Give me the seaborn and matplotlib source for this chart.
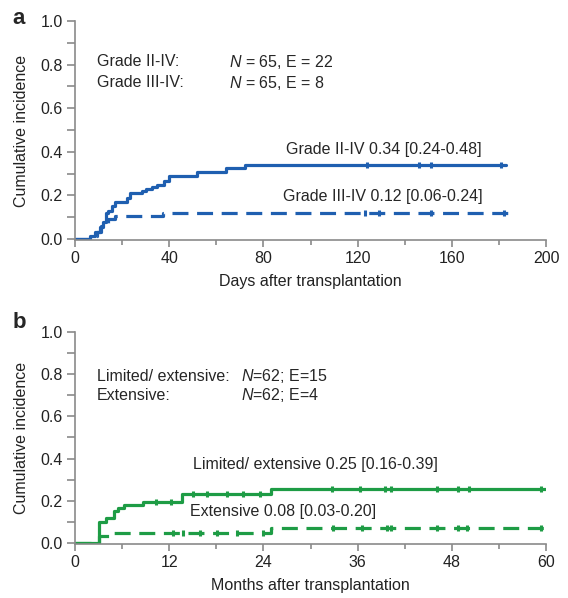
import seaborn as sns
import matplotlib.pyplot as plt
import matplotlib.ticker as mticker
import numpy as np
import pandas as pd

# panel a: acute GVHD, days after transplantation
a_days_24 = [0, 6.5, 8.5, 10.5, 12, 13, 14, 15.5, 17, 22, 23.5, 28.5, 30, 32.5, 35, 38, 40, 52, 64, 72, 183]
a_inc_24 = [0, 0.015, 0.033, 0.053, 0.077, 0.12, 0.13, 0.15, 0.17, 0.19, 0.21, 0.22, 0.228, 0.236, 0.246, 0.265, 0.29, 0.307, 0.325, 0.34, 0.34]
a_cens_24 = [124, 146, 151, 181]

a_days_34 = [0, 8, 9.5, 11, 14, 17, 37.5, 184]
a_inc_34 = [0, 0.015, 0.03, 0.06, 0.09, 0.105, 0.12, 0.12]
a_cens_34 = [123, 129, 151, 182]

# panel b: chronic GVHD, months after transplantation
b_months_le = [0, 3, 4, 5, 5.5, 6.2, 8.6, 13.6, 25, 60]
b_inc_le = [0, 0.10, 0.12, 0.15, 0.165, 0.18, 0.195, 0.23, 0.255, 0.255]
b_cens_le = [10.3, 12.2, 15.0, 16.8, 19.4, 21.4, 23.6, 32.7, 36.3, 39.5, 40.3, 46.1, 48.8, 50.2, 59.4]

b_months_ext = [0, 3, 4.4, 25, 60]
b_inc_ext = [0, 0.033, 0.047, 0.073, 0.073]
b_cens_ext = [12.5, 13.8, 15.9, 18.1, 20.6, 24, 32.9, 36.5, 39.7, 40.3, 46.1, 48.8, 49.9, 59.4]

blue = "#1f5fb0"
green = "#1e9c45"
dash = (0, (5, 2.7))

sns.set_style("ticks")
plt.rcParams['font.family'] = ['Liberation Sans', 'DejaVu Sans']
plt.rcParams['mathtext.fontset'] = 'custom'
plt.rcParams['mathtext.it'] = 'Liberation Sans:italic'
plt.rcParams['mathtext.rm'] = 'Liberation Sans'
plt.rcParams['font.size'] = 11.5

fig = plt.figure(figsize=(5.68, 5.98), dpi=100)
ax_a = fig.add_axes([75/568, 1 - 240/598, 471/568, 219/598])
ax_b = fig.add_axes([75/568, 1 - 544/598, 471/568, 212/598])


def step_value(t, y, at):
    idx = np.searchsorted(t, at, side='right') - 1
    return np.asarray(y)[idx]


def curve(ax, t, y, cens, color, ls):
    df = pd.DataFrame({"t": t, "y": y})
    sns.lineplot(data=df, x="t", y="y", ax=ax, color=color, linewidth=2.3,
                 linestyle=ls, drawstyle="steps-post", estimator=None)
    # censoring ticks, small bumps on the line
    cdf = pd.DataFrame({"t": cens, "y": step_value(t, y, cens)})
    sns.scatterplot(data=cdf, x="t", y="y", ax=ax, color=color, marker="|",
                    s=14, linewidth=2.2, zorder=3)


def style_axes(ax, xmax, xmajor, xminor, xlabel):
    ax.set_xlim(0, xmax)
    ax.set_ylim(-0.005, 1.0)
    ax.xaxis.set_major_locator(mticker.MultipleLocator(xmajor))
    ax.xaxis.set_minor_locator(mticker.MultipleLocator(xminor))
    ax.yaxis.set_major_locator(mticker.MultipleLocator(0.2))
    ax.yaxis.set_minor_locator(mticker.MultipleLocator(0.1))
    ax.yaxis.set_major_formatter(mticker.FormatStrFormatter('%.1f'))
    sns.despine(ax=ax)
    for s in ("left", "bottom"):
        ax.spines[s].set_color("#8a8a8a")
        ax.spines[s].set_linewidth(1.2)
    ax.tick_params(which="major", direction="out", length=5, width=1.2,
                   color="#8a8a8a", labelsize=11.5, labelcolor="#222222", pad=3)
    ax.tick_params(which="minor", direction="out", length=3.5, width=1.2, color="#8a8a8a")
    ax.tick_params(axis="y", which="both", length=6)
    ax.set_xlabel(xlabel, fontsize=11.5, color="#222222", labelpad=6)
    ax.set_ylabel("Cumulative incidence", fontsize=11.5, color="#222222", labelpad=8)


# panel a
curve(ax_a, a_days_24, a_inc_24, a_cens_24, blue, "-")
curve(ax_a, a_days_34, a_inc_34, a_cens_34, blue, dash)
style_axes(ax_a, 200, 40, 20, "Days after transplantation")
ax_a.text(9.3, 0.812, "Grade II-IV:", va="center", ha="left", fontsize=11.5)
ax_a.text(9.3, 0.717, "Grade III-IV:", va="center", ha="left", fontsize=11.5)
ax_a.text(65.5, 0.812, "$N$ = 65, E = 22", va="center", ha="left", fontsize=11.5)
ax_a.text(65.5, 0.717, "$N$ = 65, E = 8", va="center", ha="left", fontsize=11.5)
ax_a.text(89.5, 0.41, "Grade II-IV 0.34 [0.24-0.48]", va="center", ha="left", fontsize=11.5)
ax_a.text(88.3, 0.196, "Grade III-IV 0.12 [0.06-0.24]", va="center", ha="left", fontsize=11.5)

# panel b
curve(ax_b, b_months_le, b_inc_le, b_cens_le, green, "-")
curve(ax_b, b_months_ext, b_inc_ext, b_cens_ext, green, dash)
style_axes(ax_b, 60, 12, 6, "Months after transplantation")
ax_b.text(2.8, 0.79, "Limited/ extensive:", va="center", ha="left", fontsize=11.5)
ax_b.text(2.8, 0.70, "Extensive:", va="center", ha="left", fontsize=11.5)
ax_b.text(21.2, 0.79, "$N$=62; E=15", va="center", ha="left", fontsize=11.5)
ax_b.text(21.2, 0.70, "$N$=62; E=4", va="center", ha="left", fontsize=11.5)
ax_b.text(15.0, 0.37, "Limited/ extensive 0.25 [0.16-0.39]", va="center", ha="left", fontsize=11.5)
ax_b.text(14.6, 0.15, "Extensive 0.08 [0.03-0.20]", va="center", ha="left", fontsize=11.5)

fig.text(19/568, 1 - 18/598, "a", fontsize=16, fontweight="bold", ha="center", va="center")
fig.text(19/568, 1 - 322/598, "b", fontsize=16, fontweight="bold", ha="center", va="center")

fig.savefig("out.png", dpi=100)
